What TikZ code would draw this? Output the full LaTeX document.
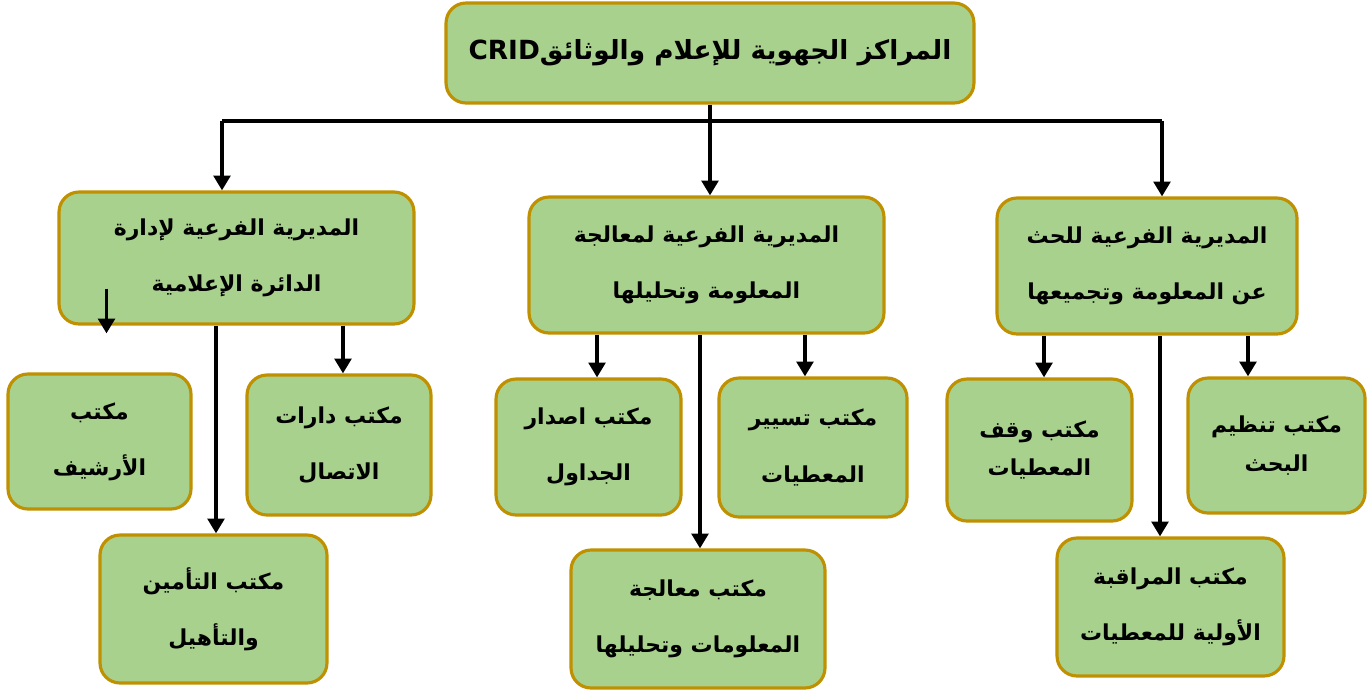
\documentclass[tikz,border=0pt]{standalone}
\usepackage{fontspec}
\newfontfamily\arabicfont[Script=Arabic]{DejaVu Sans}
\TeXXeTstate=1
\usetikzlibrary{arrows.meta,calc}

\newcommand{\artxt}[1]{\beginR #1\endR}

\definecolor{boxfill}{HTML}{A9D18E}
\definecolor{boxline}{HTML}{BF9000}

\tikzset{
    box/.style={draw=boxline, line width=1.8pt, fill=boxfill, rounded corners=0.4cm,
        align=center, inner sep=0pt,
        font=\arabicfont\bfseries\fontsize{12.5}{32}\selectfont},
    tightbox/.style={box, font=\arabicfont\bfseries\fontsize{12.5}{22}\selectfont},
    conn/.style={line width=2.2pt},
    arr/.style={conn, -{Triangle[length=8.5pt,width=9.5pt]}}
}

\begin{document}
\begin{tikzpicture}[x=0.02cm, y=-0.02cm]
\useasboundingbox (0,0) rectangle (1372,690);

% top level
\node [box, minimum width=10.56cm, minimum height=2cm, font=\arabicfont\bfseries\fontsize{15}{20}\selectfont] (top) at (710,53)
    {\artxt{المراكز الجهوية للإعلام والوثائق\beginL CRID\endL}};

% sub-directorates
\node [box, minimum width=7.1cm, minimum height=2.64cm] (ldir) at (236.5,258)
    {\artxt{المديرية الفرعية لإدارة}\\\artxt{الدائرة الإعلامية}};
\node [box, minimum width=7.1cm, minimum height=2.72cm] (mdir) at (706.5,265)
    {\artxt{المديرية الفرعية لمعالجة}\\\artxt{المعلومة وتحليلها}};
\node [box, minimum width=6cm, minimum height=2.72cm] (rdir) at (1147,266)
    {\artxt{المديرية الفرعية للحث}\\\artxt{عن المعلومة وتجميعها}};

% offices, left
\node [box, minimum width=3.66cm, minimum height=2.7cm] (archive) at (99.5,441.5)
    {\artxt{مكتب}\\\artxt{الأرشيف}};
\node [box, minimum width=3.68cm, minimum height=2.8cm] (circuit) at (339,445)
    {\artxt{مكتب دارات}\\\artxt{الاتصال}};
\node [box, minimum width=4.54cm, minimum height=2.96cm] (insur) at (213.5,609)
    {\artxt{مكتب التأمين}\\\artxt{والتأهيل}};

% offices, middle
\node [box, minimum width=3.7cm, minimum height=2.72cm] (tables) at (588.5,447)
    {\artxt{مكتب اصدار}\\\artxt{الجداول}};
\node [box, minimum width=3.76cm, minimum height=2.78cm] (steer) at (813,447.5)
    {\artxt{مكتب تسيير}\\\artxt{المعطيات}};
\node [box, minimum width=5.08cm, minimum height=2.76cm] (process) at (698,619)
    {\artxt{مكتب معالجة}\\\artxt{المعلومات وتحليلها}};

% offices, right
\node [tightbox, minimum width=3.7cm, minimum height=2.84cm] (stop) at (1039.5,450)
    {\artxt{مكتب وقف}\\\artxt{المعطيات}};
\node [tightbox, minimum width=3.54cm, minimum height=2.7cm] (organize) at (1276.5,445.5)
    {\artxt{مكتب تنظيم}\\\artxt{البحث}};
\node [box, minimum width=4.54cm, minimum height=2.76cm] (monitor) at (1170.5,607)
    {\artxt{مكتب المراقبة}\\\artxt{الأولية للمعطيات}};

% top connectors
\coordinate (barl) at (222,121);
\coordinate (barr) at (1162,121);
\draw [conn] (top.south) -- (top.south |- barl);
\draw [conn] (barl) -- (barr);
\draw [arr] (barl) -- (barl |- ldir.north);
\draw [arr] (top.south |- barl) -- (top.south |- mdir.north);
\draw [arr] (barr) -- (barr |- rdir.north);

% office connectors
\foreach \p/\dx/\c in {ldir/-0.41/insur, ldir/2.13/circuit,
                       mdir/-2.19/tables, mdir/-0.13/process, mdir/1.97/steer,
                       rdir/-2.06/stop, rdir/0.26/monitor, rdir/2.02/organize}{
    \coordinate (s) at ([xshift=\dx cm]\p.south);
    \draw [arr] (s) -- (s |- \c.north);
}
\draw [arr] ($(ldir.south -| archive.north)+(7,-37)$) -- ($(archive.north)+(7,-39)$);

\end{tikzpicture}
\end{document}
